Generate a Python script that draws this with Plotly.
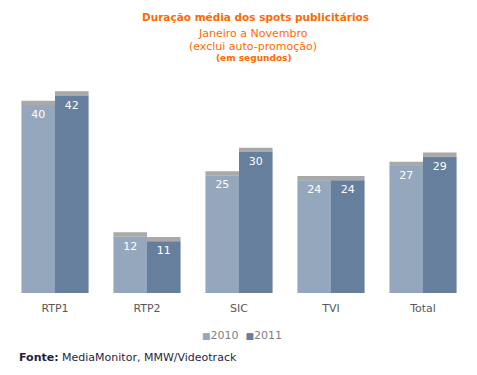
import plotly.graph_objects as go

categories = ["RTP1", "RTP2", "SIC", "TVI", "Total"]
values_2010 = [40, 12, 25, 24, 27]
values_2011 = [42, 11, 30, 24, 29]
series_names = ["2010", "2011"]

FONT = "DejaVu Sans"
ORANGE = "#FF6A00"
C2010 = "#95A7BD"
C2011 = "#667F9C"
colors = [C2010, C2011]
SHADOW = 0.9  # shadow band thickness in value units (decorative)

fig = go.Figure()
for i, (name, vals, col) in enumerate(zip(series_names, [values_2010, values_2011], colors)):
    fig.add_trace(go.Bar(
        x=categories, y=vals, name=name, offsetgroup=str(i),
        marker=dict(color=col, line=dict(width=0)),
        text=[str(v) for v in vals], textposition="inside", insidetextanchor="end",
        textfont=dict(color="white", size=11, family=FONT), cliponaxis=False,
        showlegend=False, hoverinfo="skip",
    ))
    fig.add_trace(go.Bar(
        x=categories, y=[SHADOW] * len(vals), base=vals, offsetgroup=str(i),
        marker=dict(color="rgba(140,140,140,0.75)", line=dict(width=0)),
        showlegend=False, hoverinfo="skip",
    ))

PT, PB, PL, PW = 81, 293, 9, 460
H = float(PB - PT)
def py(pix):
    return (PB - pix) / H
def px(pix):
    return (pix - PL) / PW

legend_text = "&nbsp;&nbsp;".join(
    f"<span style='color:{c}; font-size:9px'>■</span><span style='color:#7F7F7F'>{n}</span>"
    for n, c in zip(series_names, colors))

fig.update_layout(
    width=477, height=375,
    margin=dict(l=PL, r=477 - PL - PW, t=PT, b=375 - PB, autoexpand=False),
    paper_bgcolor="white", plot_bgcolor="white",
    barmode="group", bargap=0.27, bargroupgap=0,
    font=dict(family=FONT, size=11, color="#595959"),
    xaxis=dict(showgrid=False, showline=False, ticks="", automargin=False,
               ticklabelstandoff=7, tickfont=dict(size=11, color="#595959")),
    yaxis=dict(visible=False, range=[0, 45.1]),
    showlegend=False,
    annotations=[
        dict(text="<b>Duração média dos spots publicitários</b>", x=px(255), xref="paper",
             y=py(17), yref="paper", yanchor="middle", showarrow=False,
             font=dict(size=10.5, color=ORANGE, family=FONT)),
        dict(text="Janeiro a Novembro", x=px(253), xref="paper", y=py(33), yref="paper",
             yanchor="middle", showarrow=False, font=dict(size=11, color=ORANGE, family=FONT)),
        dict(text="(exclui auto-promoção)", x=px(253), xref="paper", y=py(46), yref="paper",
             yanchor="middle", showarrow=False, font=dict(size=11, color=ORANGE, family=FONT)),
        dict(text="<b>(em segundos)</b>", x=px(254), xref="paper", y=py(58), yref="paper",
             yanchor="middle", showarrow=False, font=dict(size=9, color=ORANGE, family=FONT)),
        dict(text=legend_text, x=px(242), xref="paper", y=py(335), yref="paper",
             yanchor="middle", showarrow=False, font=dict(size=11, family=FONT)),
        dict(text="<b>Fonte:</b> MediaMonitor, MMW/Videotrack", x=px(17), xref="paper",
             y=py(357), yref="paper", yanchor="middle", xanchor="left", showarrow=False,
             font=dict(size=11, color="#1F1F3F", family=FONT)),
    ],
)

fig.write_html("out.html", config={"displayModeBar": False},
               post_script="document.body.style.margin='0';document.body.style.overflow='hidden';")
